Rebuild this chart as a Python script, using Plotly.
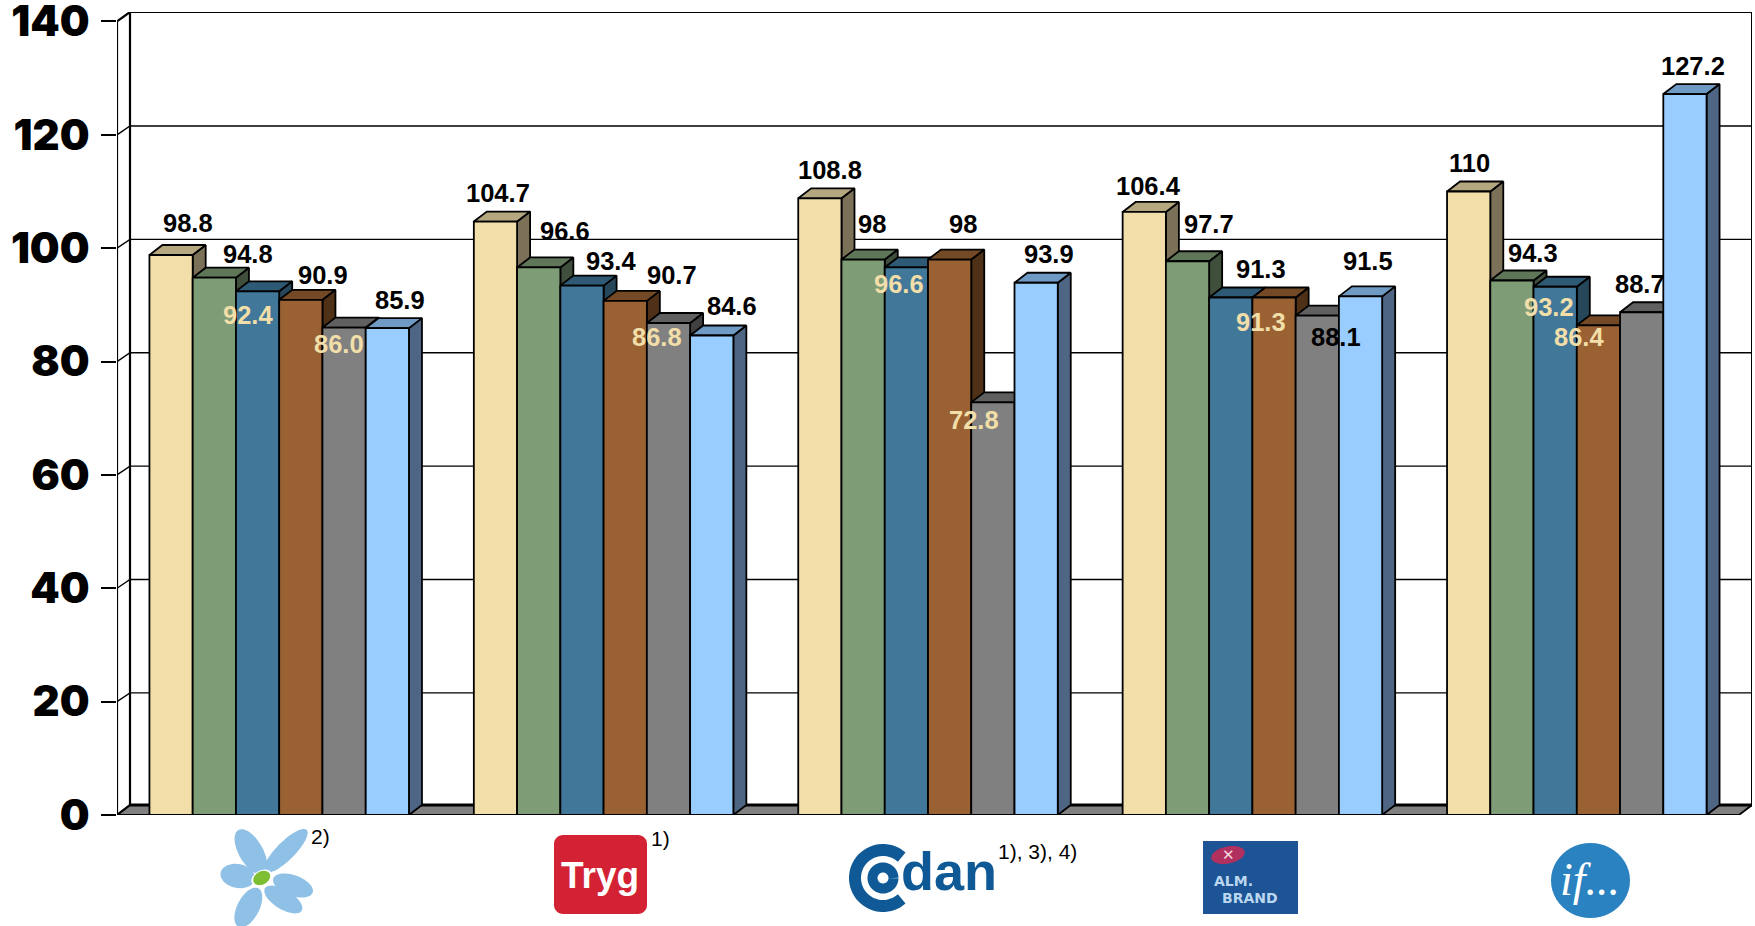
import math
import plotly.graph_objects as go

# ---------- data ----------
companies = ["Topdanmark", "Tryg", "Codan", "Alm. Brand", "If"]
series_1 = [98.8, 104.7, 108.8, 106.4, 110]
series_2 = [94.8, 96.6, 98, 97.7, 94.3]
series_3 = [92.4, 93.4, 96.6, 91.3, 93.2]
series_4 = [90.9, 90.7, 98, 91.3, 86.4]
series_5 = [86.0, 86.8, 72.8, 88.1, 88.7]
series_6 = [85.9, 84.6, 93.9, 91.5, 127.2]
value_text_1 = ["98.8", "104.7", "108.8", "106.4", "110"]
value_text_2 = ["94.8", "96.6", "98", "97.7", "94.3"]
value_text_3 = ["92.4", "93.4", "96.6", "91.3", "93.2"]
value_text_4 = ["90.9", "90.7", "98", "91.3", "86.4"]
value_text_5 = ["86.0", "86.8", "72.8", "88.1", "88.7"]
value_text_6 = ["85.9", "84.6", "93.9", "91.5", "127.2"]
y_ticks = [0, 20, 40, 60, 80, 100, 120, 140]
footnotes = ["2)", "1)", "1), 3), 4)"]

# ---------- styling / layout ----------
W, H = 1755, 926
PL, PR, PT, PB = 117, 1752, 12, 815          # plot area in pixels
UX = 324.4                                   # px per category
UY = 5.668                                   # px per value unit
DX = 13 / UX                                 # 3-D depth in axis units
DY = 10 / UY
GRID_DY = 8.8 / UY
BAR_W = 0.8 / 6
XMIN, XMAX = -0.5, -0.5 + (PR - PL) / UX
YMAX = (PB - PT) / UY
LW = 1.8

front = ["#F1DEA9", "#7E9C76", "#41789A", "#9A6233", "#808080", "#99CCFF"]
top = ["#B5A780", "#5F7659", "#2F5A75", "#744A26", "#606060", "#6F9AC4"]
side = ["#7B7058", "#404F3C", "#26465A", "#4E3116", "#404040", "#4F6584"]
LIGHT = "#F1DEA9"

all_series = [series_1, series_2, series_3, series_4, series_5, series_6]
all_text = [value_text_1, value_text_2, value_text_3, value_text_4, value_text_5, value_text_6]

# label centres, measured on the reference (1568-wide view) : per series, per company
LABEL_VIEW = [
    [(168, 199), (445, 172), (742, 152), (1026, 166), (1313, 146)],
    [(222, 227), (505, 206), (779, 200), (1080, 200), (1370, 226)],
    [(222, 281), (546, 233), (803, 254), (1127, 240), (1384, 274)],
    [(289, 246), (600, 246), (860, 200), (1127, 288), (1411, 301)],
    [(303, 307), (587, 301), (870, 375), (1194, 301), (1465, 254)],
    [(357, 268), (654, 273), (937, 227), (1222, 233), (1513, 59)],
]
LABEL_LIGHT = {(2, 0), (4, 0), (4, 1), (2, 2), (3, 3), (4, 2), (2, 4), (3, 4)}
VIEW = W / 1568

positions = list(range(len(companies)))


def xpx(x):
    return PL + (x - XMIN) * UX


def ypx(v):
    return PB - v * UY


fig = go.Figure()


def line(xs, ys, width=1.3, color="#000000", z=0):
    fig.add_trace(go.Scatter(x=xs, y=ys, mode="lines", line=dict(color=color, width=width),
                             hoverinfo="skip", showlegend=False, cliponaxis=False, zorder=z))


# floor
fig.add_trace(go.Scatter(
    x=[XMIN, XMAX - DX, XMAX, XMIN + DX, XMIN], y=[0, 0, DY, DY, 0], mode="lines",
    fill="toself", fillcolor="#808080", line=dict(color="#000000", width=LW),
    hoverinfo="skip", showlegend=False, cliponaxis=False, zorder=0))
line([XMIN + DX, XMAX], [DY, DY], width=3)

# back wall grid + side wall diagonals
for t in y_ticks[1:-1]:
    line([XMIN, XMIN + DX, XMAX], [t, t + GRID_DY, t + GRID_DY], width=1.4)
line([XMIN, XMIN + DX, XMAX], [140, YMAX, YMAX], width=2.2)
line([XMIN, XMIN], [0, 140], width=2.2)
line([XMIN + DX, XMIN + DX], [DY, YMAX], width=2.2)
line([XMAX, XMAX], [DY, YMAX], width=2.0)
line([XMIN, XMIN + DX], [0, DY], width=2.0)

# bars
annotations = []
for s, values in enumerate(all_series):
    left = -0.4 + s * BAR_W
    sx, sy, tx, ty = [], [], [], []
    for p, v in zip(positions, values):
        x0 = p + left
        x1 = x0 + BAR_W
        sx += [x1, x1 + DX, x1 + DX, x1, x1, None]
        sy += [0, DY, v + DY, v, 0, None]
        tx += [x0, x1, x1 + DX, x0 + DX, x0, None]
        ty += [v, v, v + DY, v + DY, v, None]
    z = 10 + 2 * s
    for xs, ys, col in ((sx, sy, side[s]), (tx, ty, top[s])):
        fig.add_trace(go.Scatter(x=xs, y=ys, mode="lines", fill="toself", fillcolor=col,
                                 line=dict(color="#000000", width=LW), hoverinfo="skip",
                                 showlegend=False, cliponaxis=False, zorder=z))
    fig.add_trace(go.Bar(x=positions, y=values, width=BAR_W, offset=left,
                         marker=dict(color=front[s], line=dict(color="#000000", width=LW)),
                         hovertext=companies, showlegend=False, zorder=z + 1))
    for p, v in zip(positions, values):
        vx, vy = LABEL_VIEW[s][p]
        cx = p + left + BAR_W / 2
        annotations.append(dict(
            x=cx, y=v, xref="x", yref="y", text=all_text[s][p], showarrow=False,
            xanchor="center", yanchor="middle",
            xshift=vx * VIEW - xpx(cx), yshift=ypx(v) - vy * VIEW,
            font=dict(family="Liberation Sans", size=25.5, weight="bold",
                      color=LIGHT if (s, p) in LABEL_LIGHT else "#000000")))


# ---------- logos (drawn, all in reference pixels) ----------
def px_x(x):
    return (x - PL) / (PR - PL)


def px_y(y):
    return (PB - y) / (PB - PT)


def path_of(points, close=True):
    d = "M " + " L ".join(f"{px_x(x):.5f},{px_y(y):.5f}" for x, y in points)
    return d + (" Z" if close else "")


def ellipse_points(cx, cy, rx, ry, rot=0.0, a0=0, a1=360, n=48):
    pts = []
    for i in range(n + 1):
        a = math.radians(a0 + (a1 - a0) * i / n)
        ex, ey = rx * math.cos(a), ry * math.sin(a)
        pts.append((cx + ex * math.cos(rot) - ey * math.sin(rot),
                    cy + ex * math.sin(rot) + ey * math.cos(rot)))
    return pts


shapes = []


def add_shape(points, fill, close=True, line_color=None, line_width=0):
    shapes.append(dict(type="path", xref="paper", yref="paper", layer="above",
                       path=path_of(points, close), fillcolor=fill if close else "rgba(0,0,0,0)",
                       line=dict(color=line_color or "rgba(0,0,0,0)", width=line_width)))


def text_at(x, y, text, size, color, family="Liberation Sans", weight="normal", anchor="center", italic=False):
    annotations.append(dict(x=px_x(x), y=px_y(y), xref="paper", yref="paper", text=text,
                            showarrow=False, xanchor=anchor, yanchor="middle",
                            font=dict(family=family, size=size, color=color, weight=weight,
                                      style="italic" if italic else "normal")))


# flower
PETALS = [(160, 160, 85, 30, 72), (165, 155, 290, 30, 55), (190, 175, 308, 218, 62),
          (165, 205, 275, 272, 58), (145, 205, 85, 320, 66), (135, 178, 32, 158, 72)]
for x0, y0, x1, y1, w in PETALS:
    ax, ay = 210 + x0 / 3, 820 + y0 / 3
    bx, by = 210 + x1 / 3, 820 + y1 / 3
    add_shape(ellipse_points((ax + bx) / 2, (ay + by) / 2, math.hypot(bx - ax, by - ay) / 2, w / 6,
                             math.atan2(by - ay, bx - ax)), "#8FC1E6")
add_shape(ellipse_points(261.7, 878, 11, 7.5, -0.5), "#FFFFFF")
add_shape(ellipse_points(261.7, 878, 9, 6.5, -0.5), "#7DBE32")

# Tryg
R = 9
x0, x1, y0, y1 = 554, 647, 835, 914
pts = []
for cx, cy, a0 in ((x1 - R, y0 + R, -90), (x1 - R, y1 - R, 0), (x0 + R, y1 - R, 90), (x0 + R, y0 + R, 180)):
    pts += ellipse_points(cx, cy, R, R, 0, a0, a0 + 90, 8)
add_shape(pts, "#D22234")
text_at(600, 875, "Tryg", 37, "#FFFFFF", weight="bold")

# Codan
BLUE = "#0F5A96"
add_shape(ellipse_points(883, 878, 28, 28, 0, 48, 312), "", close=False, line_color=BLUE, line_width=12)
add_shape(ellipse_points(883, 878, 10.5, 10.5), "", close=False, line_color=BLUE, line_width=10)
text_at(949, 871, "dan", 54, BLUE, weight="bold")

# Alm. Brand
add_shape([(1203, 841), (1298, 841), (1298, 914), (1203, 914)], "#1C5496")
add_shape(ellipse_points(1228, 855, 17, 8.5, -0.2), "#B03060")
text_at(1228, 855, "✕", 15, "#FAD5DC", family="DejaVu Sans", weight="bold")
text_at(1233, 881, "ALM.", 14, "#BBD7F0", family="DejaVu Sans", weight="bold")
text_at(1250, 898, "BRAND", 14, "#BBD7F0", family="DejaVu Sans", weight="bold")

# If
add_shape(ellipse_points(1590.5, 880.5, 39.5, 37.5), "#2A82C0")
text_at(1590, 879, "if...", 46, "#FFFFFF", family="Liberation Serif", italic=True)

# footnotes
text_at(320, 836, footnotes[0], 21, "#000000")
text_at(660, 839, footnotes[1], 21, "#000000")
text_at(1037, 851, footnotes[2], 21, "#000000")

fig.update_layout(
    width=W, height=H, barmode="overlay", showlegend=False,
    margin=dict(l=PL, r=W - PR, t=PT, b=H - PB, autoexpand=False),
    paper_bgcolor="#FFFFFF", plot_bgcolor="#FFFFFF",
    xaxis=dict(range=[XMIN, XMAX], showgrid=False, zeroline=False, showticklabels=False,
               ticks="", showline=False, fixedrange=True),
    yaxis=dict(range=[0, YMAX], tickmode="array", tickvals=y_ticks, ticktext=[str(t) for t in y_ticks],
               showgrid=False, zeroline=False, showline=False, ticks="outside", ticklen=15, tickwidth=2.2,
               tickcolor="#000000", ticklabelstandoff=3, ticklabeloverflow="allow",
               tickfont=dict(family="Inter", size=42, weight=900, color="#000000"),
               fixedrange=True),
    shapes=shapes, annotations=annotations,
)

fig.write_html("out.html", config={"displayModeBar": False},
               post_script="document.body.style.margin='0';document.body.style.overflow='hidden';")
